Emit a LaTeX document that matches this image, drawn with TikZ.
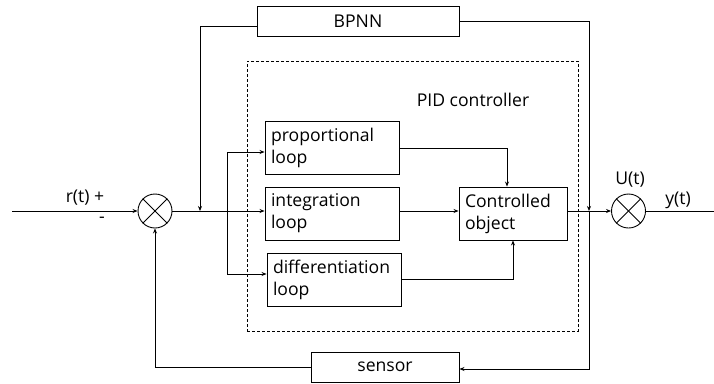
\documentclass[tikz,border=0pt]{standalone}
\usepackage{fontspec}
\setmainfont{Open Sans}
\usepackage{tikz}
\usetikzlibrary{positioning,shapes,arrows,arrows.meta}

\begin{document}
\begin{tikzpicture}[x=1pt,y=1pt,font=\fontsize{17.6}{22}\selectfont]
\tikzstyle{every node}+=[inner sep=0pt]
\tikzstyle{block}=[draw,line width=0.9pt,minimum height=53pt,text width=122pt,inner xsep=6pt,align=left]
\tikzstyle{wide}=[draw,line width=0.9pt,minimum height=30pt,align=center]
\tikzstyle{summer}=[draw,circle,line width=0.9pt,minimum size=34pt]
\tikzstyle{arr}=[line width=0.8pt,-{Stealth[length=5pt,width=4pt]}]
\tikzstyle{ln}=[line width=0.8pt]
\useasboundingbox (0,0) rectangle (714,-383);
% frame of the PID controller
\node [draw,dash pattern=on 3pt off 2pt,line width=0.7pt,minimum width=331pt,minimum height=270pt] (pid) at (412.5,-196) {};
\node (pidlabel) at (473,-100) {PID controller};
% blocks
\node [wide,minimum width=202pt] (bpnn) at (358,-21) {BPNN};
\node [block] (prop) at (332,-148) {proportional\\loop};
\node [block] (integ) at (332,-213.5) {integration\\loop};
\node [block] (diff) at (334,-280) {differentiation\\loop};
\node [block,text width=96pt] (plant) at (513,-213.5) {Controlled\\object};
\node [wide,minimum width=148pt] (sensor) at (385,-367) {sensor};
\node [summer] (sumL) at (155,-211) {};
\node [summer] (sumR) at (628.5,-211) {};
\draw [ln] (sumL.north west) -- (sumL.south east);
\draw [ln] (sumL.north east) -- (sumL.south west);
\draw [ln] (sumR.north west) -- (sumR.south east);
\draw [ln] (sumR.north east) -- (sumR.south west);
% points on the lines
\coordinate (in) at (12,-211);
\coordinate (out) at (714,-211);
\coordinate (fb) at (200,-211);
\coordinate (br) at (227,-211);
\coordinate (tap) at (589,-211);
% labels
\node (rlabel) at (85,-198) {r(t) +};
\node (minus) at (102,-220) {-};
\node (ulabel) at (630,-180) {U(t)};
\node (ylabel) at (678,-200) {y(t)};
% connectors
\draw [arr] (in) -- (sumL.west);
\draw [arr] (sumL.east) -- (sumL.east -| integ.west);
\draw [arr] ([yshift=-5pt]bpnn.west) -| (fb);
\draw [arr] (br) |- ([yshift=-4pt]prop.west);
\draw [arr] (br) |- ([yshift=6pt]diff.west);
\draw [arr] ([yshift=0pt]prop.east) -| ([xshift=-6pt]plant.north);
\draw [arr] (integ.east |- sumL.east) -- (plant.west |- sumL.east);
\draw [arr] ([yshift=1pt]diff.east) -| (plant.south);
\draw [arr] (plant.east |- sumR.west) -- (sumR.west);
\draw [ln] (sumR.east) -- (out);
\draw [arr] (bpnn.east) -| (tap);
\draw [arr] (tap) |- ([yshift=-2pt]sensor.east);
\draw [arr] (sensor.west) -| (sumL.south);
\end{tikzpicture}
\end{document}
